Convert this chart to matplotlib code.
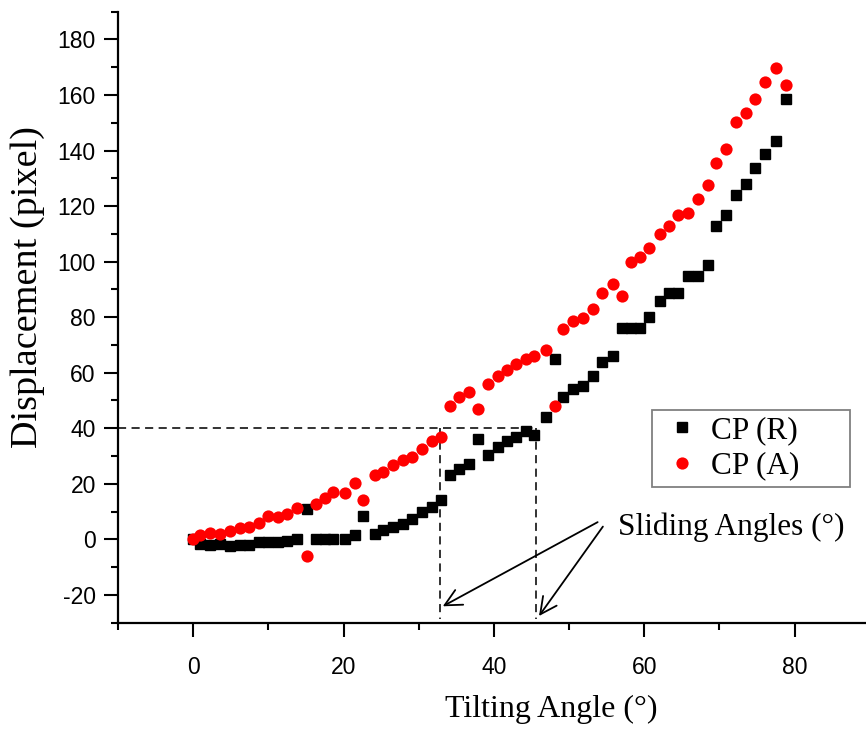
import numpy as np
import matplotlib
matplotlib.use('Agg')
import matplotlib.pyplot as plt
from matplotlib.ticker import MultipleLocator

plt.rcParams['axes.unicode_minus'] = False

# tilting angle (deg), shared by both series
angle = [0, 0.9, 2.3, 3.6, 4.9, 6.2, 7.4, 8.7, 10.0, 11.3, 12.5, 13.8, 15.2, 16.4,
         17.5, 18.6, 20.2, 21.5, 22.6, 24.2, 25.3, 26.6, 27.9, 29.1, 30.4, 31.7,
         33.0, 34.1, 35.4, 36.7, 37.9, 39.2, 40.6, 41.8, 42.9, 44.3, 45.4, 46.9,
         48.1, 49.2, 50.5, 51.9, 53.2, 54.4, 55.8, 57.0, 58.3, 59.5, 60.6, 62.1,
         63.3, 64.5, 65.8, 67.2, 68.5, 69.5, 70.9, 72.2, 73.6, 74.7, 76.1, 77.5, 78.9]

cp_r = [0, -1.5, -2.0, -1.8, -2.3, -2.0, -2.0, -1.0, -1.0, -0.8, -0.5, 0.0, 11.0, 0.0,
        0.0, 0.0, 0.3, 1.4, 8.3, 2.0, 3.2, 4.4, 5.6, 7.4, 9.8, 11.6,
        14.2, 23.0, 25.4, 27.2, 36.2, 30.2, 33.1, 35.3, 36.7, 39.1, 37.7, 43.9,
        65.1, 51.1, 54.1, 55.3, 58.9, 63.9, 66.1, 76.0, 76.0, 76.0, 80.2, 85.8,
        88.8, 88.8, 94.8, 94.8, 98.7, 112.7, 116.7, 123.9, 127.9, 133.7, 138.7, 143.6, 158.6]

cp_a = [0, 1.4, 2.3, 2.1, 3.0, 4.0, 4.4, 6.0, 8.3, 8.0, 9.2, 11.2, -6.1, 12.8,
        15.0, 17.0, 16.8, 20.2, 14.0, 23.2, 24.2, 26.8, 28.4, 29.8, 32.6, 35.5,
        37.0, 48.1, 51.1, 52.9, 46.9, 55.9, 58.9, 60.9, 63.1, 65.1, 66.1, 68.1,
        48.1, 75.9, 78.6, 79.8, 82.8, 88.8, 91.8, 87.6, 99.8, 101.8, 104.8, 109.8,
        112.7, 116.9, 117.5, 122.7, 127.7, 135.5, 140.6, 150.4, 153.4, 158.6, 164.6, 169.8, 163.6]

sliding_angles = [32.8, 45.6]
sliding_disp = 40

serif = ['Liberation Serif', 'DejaVu Serif']
sans = ['Liberation Sans', 'DejaVu Sans']

fig = plt.figure(figsize=(8.66, 7.39), dpi=100)
ax = fig.add_axes([0.1363, 0.1574, 0.8637, 0.8268])

ax.plot(angle, cp_r, 's', color='black', ms=7.2, mec='black', label='CP (R)', zorder=3)
ax.plot(angle, cp_a, 'o', color='#ff0000', ms=8.8, mec='#ff0000', mew=0, label='CP (A)', zorder=4)

dash = (0, (4.5, 3))
ax.plot([-10, sliding_angles[1]], [sliding_disp, sliding_disp], color='#222222', lw=1.3, ls=dash, zorder=2)
for a in sliding_angles:
    ax.plot([a, a], [sliding_disp, -28.5], color='#222222', lw=1.3, ls=dash, zorder=2)

ax.text(56.5, 4.3, 'Sliding Angles (°)', fontsize=22.5, family=serif, va='center', ha='left')
for (x0, y0), a, y1 in zip([(53.8, 6.2), (54.5, 4.6)], sliding_angles, [-24.1, -27.6]):
    ax.annotate('', xy=(a + 0.4, y1), xytext=(x0, y0),
                arrowprops=dict(arrowstyle='->', color='black', lw=1.3,
                                mutation_scale=30, shrinkA=0, shrinkB=0))

ax.set_xlim(-10, 89.5)
ax.set_ylim(-30, 190)
ax.xaxis.set_major_locator(MultipleLocator(20))
ax.xaxis.set_minor_locator(MultipleLocator(10))
ax.yaxis.set_major_locator(MultipleLocator(20))
ax.yaxis.set_minor_locator(MultipleLocator(10))
ax.set_yticks(np.arange(-20, 181, 20))

for s in ['top', 'right']:
    ax.spines[s].set_visible(False)
for s in ['left', 'bottom']:
    ax.spines[s].set_linewidth(1.6)

ax.tick_params(which='major', direction='out', length=10, width=1.5, labelsize=16.5)
ax.tick_params(which='minor', direction='out', length=5, width=1.5)
ax.tick_params(axis='x', which='major', pad=14)
ax.tick_params(axis='y', which='major', pad=6)
for lab in ax.get_xticklabels() + ax.get_yticklabels():
    lab.set_family(sans)

ax.set_xlabel('Tilting Angle (°)', fontsize=23, family=serif)
ax.xaxis.set_label_coords(0.579, -0.118)
ax.set_ylabel('Displacement (pixel)', fontsize=27.5, family=serif)
ax.yaxis.set_label_coords(-0.098, 0.55)

leg = ax.legend(loc='upper left', bbox_to_anchor=(0.714, 0.228, 0.265, 0.12), mode='expand',
                prop={'family': serif, 'size': 22.5}, handlelength=1.5, handletextpad=0.2,
                borderpad=0.2, labelspacing=0.2, fancybox=False, framealpha=1,
                borderaxespad=0)
leg.get_frame().set_edgecolor('#808080')
leg.get_frame().set_linewidth(1.3)

fig.savefig('out.png', dpi=100)
